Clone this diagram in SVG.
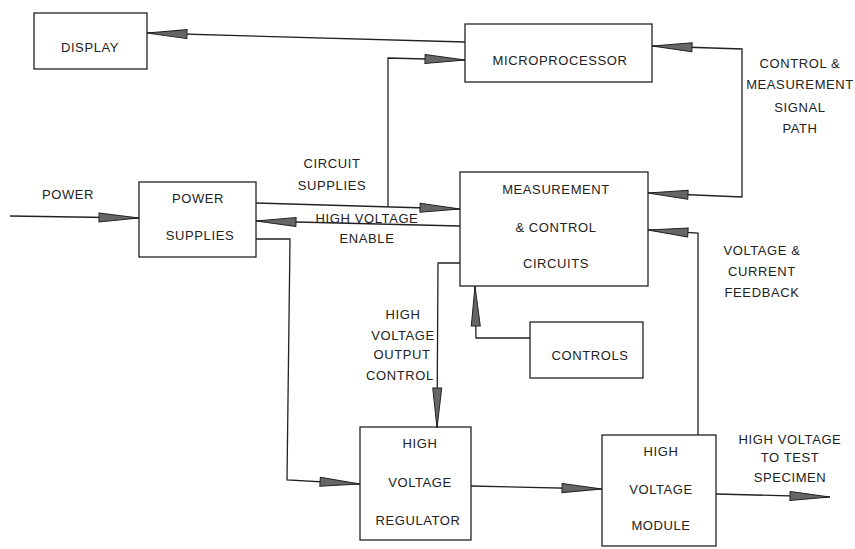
<svg xmlns="http://www.w3.org/2000/svg" width="855" height="549" viewBox="0 0 855 549">
<style>
.box{fill:none;stroke:#222;stroke-width:1.3}
.c{fill:none;stroke:#222;stroke-width:1.3;marker-end:url(#ah)}
.p{fill:none;stroke:#222;stroke-width:1.3}
text{font-family:"Liberation Sans",Arial,sans-serif;font-size:13px;fill:#222;text-anchor:middle;letter-spacing:0.6px}
</style>
<defs>
<marker id="ah" markerUnits="userSpaceOnUse" markerWidth="42" markerHeight="12" viewBox="0 0 42 12" refX="41" refY="6" orient="auto">
<path d="M1,1.5 L41,6 L1,10.5 Z" fill="#666" stroke="#222" stroke-width="1"/>
</marker>
</defs>
<rect width="855" height="549" fill="#fff"/>
<g id="display"><rect class="box" x="34" y="13" width="113" height="56"/><text x="90" y="52">DISPLAY</text></g>
<g id="microprocessor"><rect class="box" x="465" y="24" width="187" height="58"/><text x="560" y="65">MICROPROCESSOR</text></g>
<g id="power-supplies"><rect class="box" x="139" y="182" width="117" height="75"/><text x="198" y="203">POWER</text><text x="200" y="240">SUPPLIES</text></g>
<g id="measurement-control"><rect class="box" x="460" y="172" width="188" height="114"/><text x="556" y="194">MEASUREMENT</text><text x="556" y="232">&amp; CONTROL</text><text x="556" y="268">CIRCUITS</text></g>
<g id="controls"><rect class="box" x="530" y="322" width="113" height="56"/><text x="590" y="360">CONTROLS</text></g>
<g id="hv-regulator"><rect class="box" x="360" y="427" width="111" height="113"/><text x="420" y="448">HIGH</text><text x="420" y="487">VOLTAGE</text><text x="418" y="525">REGULATOR</text></g>
<g id="hv-module"><rect class="box" x="602" y="435" width="114" height="111"/><text x="661" y="456">HIGH</text><text x="661" y="494">VOLTAGE</text><text x="661" y="530">MODULE</text></g>
<g id="connectors">
<path class="c" d="M465,42 L147,33"/>
<path class="c" d="M388,206 L388,58 L465,60"/>
<path class="c" d="M256,203 L460,209"/>
<path class="c" d="M460,226 L256,221"/>
<path class="c" d="M742,120 L742,49 L652,46"/>
<path class="c" d="M742,120 L742,197 L648,193"/>
<path class="c" d="M698,435 L698,233 L648,230"/>
<path class="c" d="M10,216 L139,218"/>
<path class="c" d="M256,239 L290,239 L287,480 L360,484"/>
<path class="c" d="M460,263 L438,263 L437,428"/>
<path class="c" d="M530,338 L476,338 L475,286"/>
<path class="c" d="M471,486 L602,489"/>
<path class="c" d="M716,494 L830,497"/>
</g>
<g id="labels">
<text x="68" y="199">POWER</text>
<text x="332" y="168">CIRCUIT</text>
<text x="332" y="190">SUPPLIES</text>
<text x="367" y="223">HIGH VOLTAGE</text>
<text x="367" y="243">ENABLE</text>
<text x="800" y="68">CONTROL &amp;</text>
<text x="800" y="89">MEASUREMENT</text>
<text x="800" y="112">SIGNAL</text>
<text x="800" y="133">PATH</text>
<text x="762" y="255">VOLTAGE &amp;</text>
<text x="762" y="276">CURRENT</text>
<text x="762" y="297">FEEDBACK</text>
<text x="403" y="319">HIGH</text>
<text x="403" y="340">VOLTAGE</text>
<text x="402" y="359">OUTPUT</text>
<text x="400" y="380">CONTROL</text>
<text x="790" y="444">HIGH VOLTAGE</text>
<text x="790" y="462">TO TEST</text>
<text x="790" y="482">SPECIMEN</text>
</g>
</svg>
